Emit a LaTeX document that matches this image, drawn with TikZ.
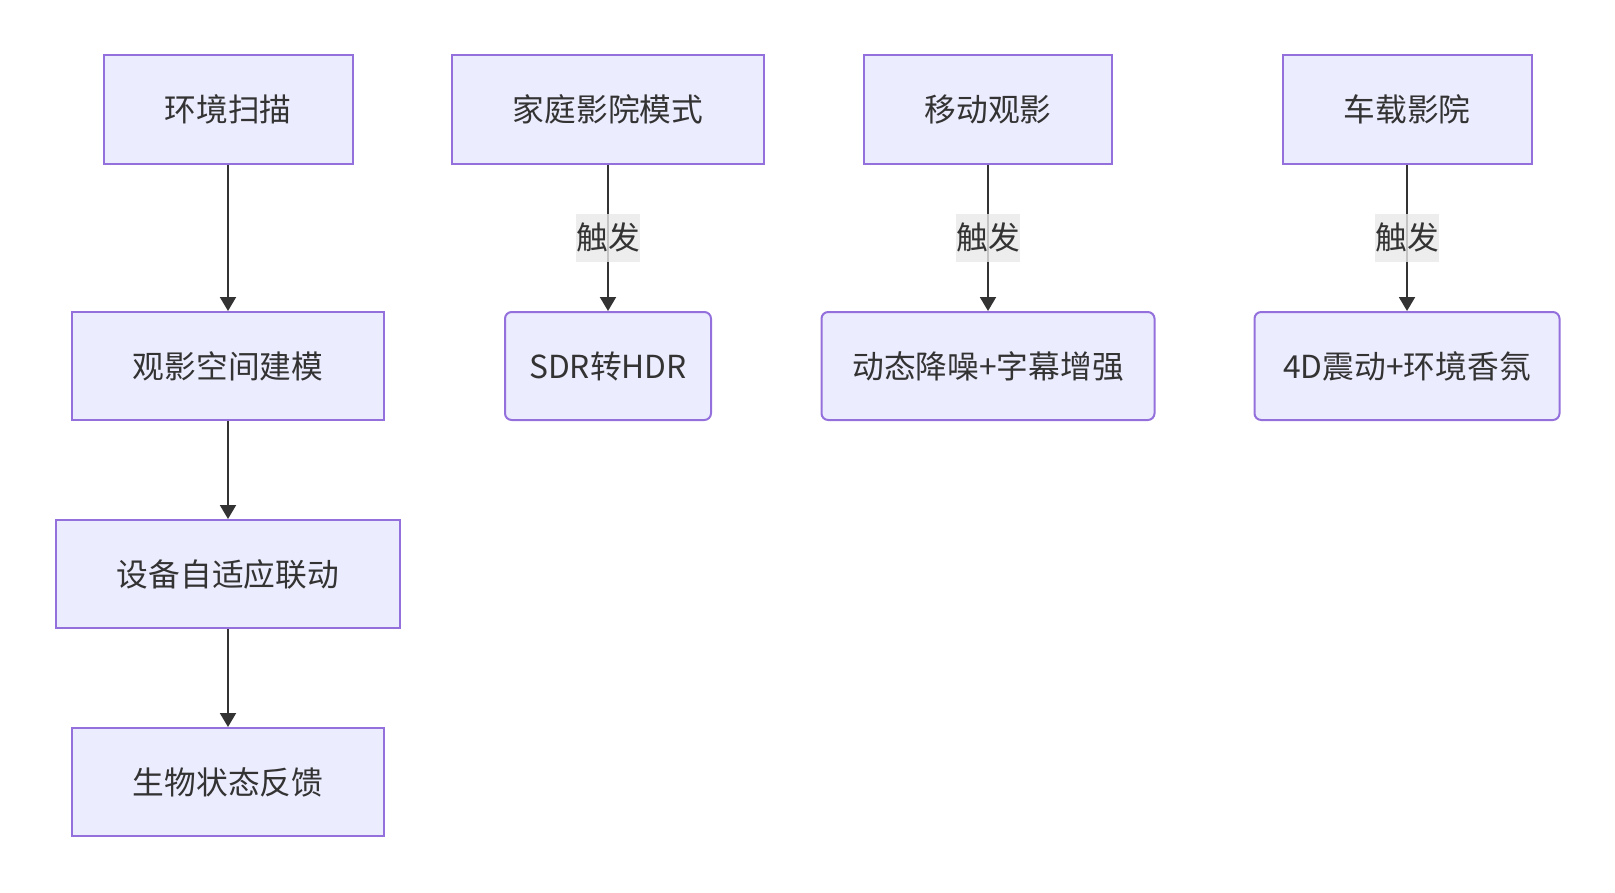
\documentclass[tikz,border=0pt]{standalone}
\usepackage{fontspec}
\setmainfont{Noto Sans CJK SC}
\usetikzlibrary{arrows.meta}
\definecolor{boxfill}{HTML}{ECECFF}
\definecolor{boxline}{HTML}{9370DB}
\definecolor{inkgray}{HTML}{333333}
\definecolor{lblfill}{HTML}{E8E8E8}
\tikzset{every picture/.style={line width=0.75pt}}
\tikzset{
  proc/.style={draw=boxline, fill=boxfill, line width=1.5pt, text=inkgray,
    minimum height=81pt, inner sep=0pt, font=\fontsize{23.8}{28}\selectfont},
  act/.style={proc, rounded corners=5pt},
  flow/.style={draw=inkgray, line width=1.5pt, -{Triangle[length=10.5pt,width=12pt]}},
  trig/.style={fill=lblfill, fill opacity=0.8, text opacity=1, text=inkgray,
    inner xsep=0pt, inner ysep=0pt, minimum height=36pt, font=\fontsize{23.8}{28}\selectfont}
}

\begin{document}
\begin{tikzpicture}[x=0.75pt,y=0.75pt,yscale=-1]
\useasboundingbox (0,0) rectangle (1615,892);

% Text Node
\node [proc, minimum width=186.75pt] (scan) at (228,109.5) {环境扫描};
% Text Node
\node [proc, minimum width=234pt] (model) at (228,366) {观影空间建模};
% Text Node
\node [proc, minimum width=258pt] (device) at (228,574) {设备自适应联动};
% Text Node
\node [proc, minimum width=234pt] (bio) at (228,782) {生物状态反馈};

% Text Node
\node [proc, minimum width=234pt] (home) at (608,109.5) {家庭影院模式};
% Text Node
\node [act, minimum width=154.5pt] (sdr) at (608,366) {SDR转HDR};

% Text Node
\node [proc, minimum width=186pt] (mobile) at (988,109.5) {移动观影};
% Text Node
\node [act, minimum width=249.75pt] (noise) at (988,366) {动态降噪+字幕增强};

% Text Node
\node [proc, minimum width=186.75pt] (car) at (1407,109.5) {车载影院};
% Text Node
\node [act, minimum width=228.75pt] (vibe) at (1407,366) {4D震动+环境香氛};

%Straight Lines
\draw [flow] (scan) -- (model);
\draw [flow] (model) -- (device);
\draw [flow] (device) -- (bio);

%Straight Lines
\draw [flow] (home) -- (sdr) node [trig, midway] (homelbl) {触发};
\draw [flow] (mobile) -- (noise) node [trig, midway] (mobilelbl) {触发};
\draw [flow] (car) -- (vibe) node [trig, midway] (carlbl) {触发};

\end{tikzpicture}
\end{document}
